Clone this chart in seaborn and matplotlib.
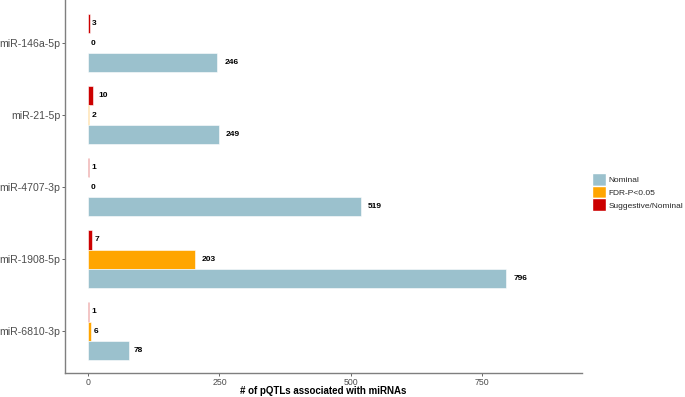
import matplotlib
matplotlib.use("Agg")
import matplotlib.pyplot as plt
import seaborn as sns
import pandas as pd
from matplotlib.patches import Patch

mirnas = ["miR-146a-5p", "miR-21-5p", "miR-4707-3p", "miR-1908-5p", "miR-6810-3p"]
nominal = [246, 249, 519, 796, 78]
fdr = [0, 2, 0, 203, 6]
suggestive = [3, 10, 1, 7, 1]
categories = ["Nominal", "FDR-P<0.05", "Suggestive/Nominal"]
colors = {"Nominal": "#9BC1CD", "FDR-P<0.05": "#FFA500", "Suggestive/Nominal": "#CC0000"}

rows = []
for i, m in enumerate(mirnas):
    rows.append((m, "Suggestive/Nominal", suggestive[i]))
    rows.append((m, "FDR-P<0.05", fdr[i]))
    rows.append((m, "Nominal", nominal[i]))
df = pd.DataFrame(rows, columns=["miRNA", "type", "count"])

sns.set_theme(style="white")
plt.rcParams["font.family"] = ["Liberation Sans", "DejaVu Sans"]
fig = plt.figure(figsize=(6.85, 3.97), dpi=100)
ax = fig.add_axes([65/685, 24/397, (582-65)/685, 373/397])

hue_order = ["Suggestive/Nominal", "FDR-P<0.05", "Nominal"]
sns.barplot(data=df, y="miRNA", x="count", hue="type", order=mirnas,
            hue_order=hue_order, palette=colors, orient="h", width=0.81,
            saturation=1, edgecolor="white", linewidth=0.4, ax=ax, legend=False)

lab_fs = 6.0
for cont in ax.containers:
    for p in cont.patches:
        w = p.get_width()
        yc = p.get_y() + p.get_height() / 2
        s = "%d" % round(w)
        pad = 0.5 * len(s) * 0.556 * lab_fs
        ax.annotate(s, (w, yc), xytext=(pad, 0), textcoords="offset points",
                    ha="left", va="center", fontsize=lab_fs, fontweight="bold",
                    color="black")

ax.set_xlim(-44, 940)
ax.set_ylim(4.58, -0.6)
ax.set_xticks([0, 250, 500, 750])
ax.set_xlabel("# of pQTLs associated with miRNAs", fontsize=7, fontweight="bold",
              color="black")
ax.xaxis.set_label_coords(0.5, -0.035)
ax.set_ylabel("")
ax.tick_params(axis="x", labelsize=6.3, colors="#4D4D4D", length=2.5, width=0.6, pad=1)
ax.tick_params(axis="y", labelsize=7.6, colors="#4D4D4D", length=2.5, width=0.6, pad=1)
ax.tick_params(axis="both", which="both", bottom=True, left=True)
for s in ["top", "right"]:
    ax.spines[s].set_visible(False)
for s in ["left", "bottom"]:
    ax.spines[s].set_color("#7F7F7F")
    ax.spines[s].set_linewidth(1.0)

handles = [Patch(facecolor=colors[c], edgecolor="white", label=c) for c in categories]
fig.legend(handles=handles, loc="center left", bbox_to_anchor=(592/685, 1 - 192/397),
           frameon=False, fontsize=6.0, handlelength=1.68, handleheight=2.0,
           handletextpad=0.3, labelspacing=0.0, borderaxespad=0, borderpad=0)

fig.savefig("out.png", dpi=100)
